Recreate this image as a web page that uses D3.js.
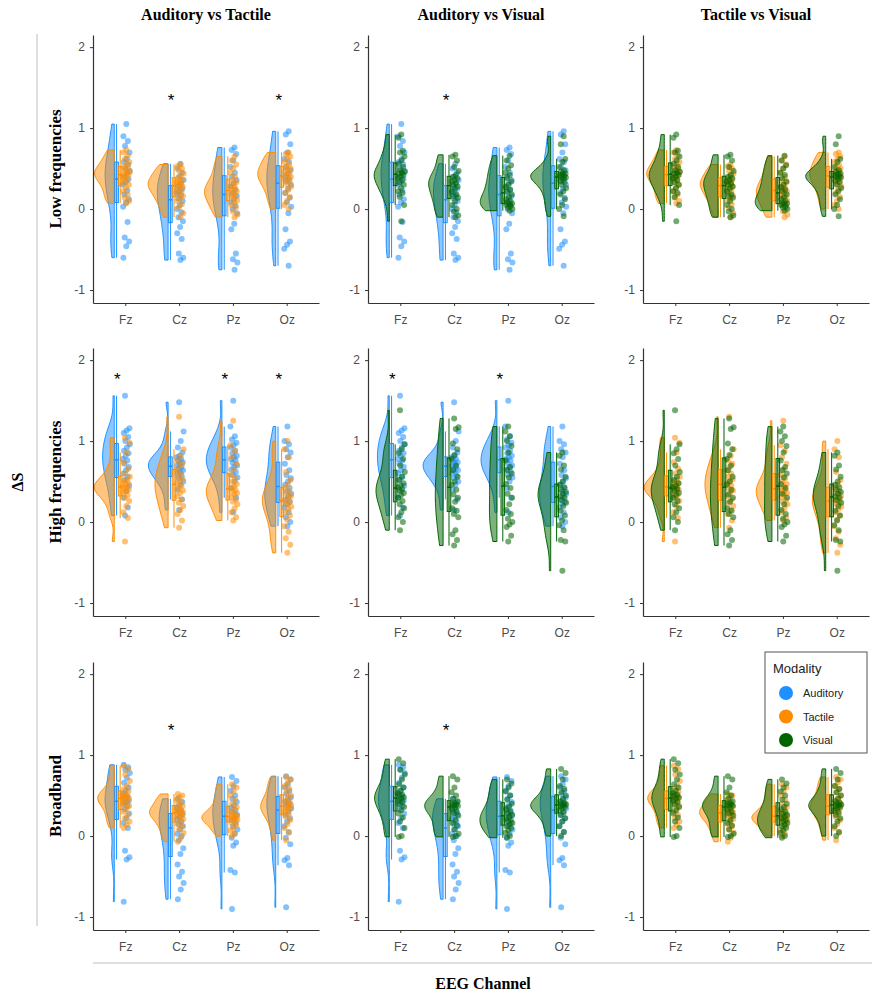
<!DOCTYPE html>
<html>
<head>
<meta charset="utf-8">
<script src="https://cdn.jsdelivr.net/npm/d3@7"></script>
<style>
  body { margin: 0; background: #fff; }
</style>
</head>
<body>
<svg id="chart" width="872" height="992"></svg>
<script>
const channels = ['Fz', 'Cz', 'Pz', 'Oz'];
const bands = ['Low frequencies', 'High frequencies', 'Broadband'];
const modalities = ['Auditory', 'Tactile', 'Visual'];
const comparisons = [['Auditory', 'Tactile'], ['Auditory', 'Visual'], ['Tactile', 'Visual']];
const yTicks = [-1, 0, 1, 2];

// ΔS per subject, one inner array per channel (Fz, Cz, Pz, Oz)
const lowAuditory = [
  [1.05, 0.9, 0.84, 0.78, 0.7, 0.62, 0.58, 0.55, 0.5, 0.47, 0.44, 0.4, 0.37, 0.33, 0.3, 0.23, 0.18, 0.12, 0.08, 0.03, -0.16, -0.35, -0.4, -0.46, -0.6],
  [0.56, 0.5, 0.45, 0.4, 0.36, 0.32, 0.28, 0.25, 0.22, 0.2, 0.17, 0.13, 0.1, 0.05, 0.0, -0.04, -0.1, -0.15, -0.22, -0.3, -0.37, -0.55, -0.6, -0.63],
  [0.76, 0.73, 0.68, 0.6, 0.52, 0.45, 0.4, 0.36, 0.32, 0.28, 0.24, 0.2, 0.16, 0.12, 0.08, 0.04, 0.0, -0.05, -0.18, -0.25, -0.55, -0.62, -0.66, -0.75],
  [0.96, 0.92, 0.8, 0.7, 0.62, 0.58, 0.52, 0.48, 0.44, 0.4, 0.37, 0.34, 0.3, 0.25, 0.2, 0.14, 0.08, 0.03, -0.05, -0.25, -0.4, -0.44, -0.49, -0.7]
];
const lowTactile = [
  [0.73, 0.7, 0.66, 0.62, 0.58, 0.55, 0.52, 0.5, 0.48, 0.46, 0.45, 0.43, 0.42, 0.4, 0.38, 0.36, 0.33, 0.3, 0.26, 0.22, 0.18, 0.14, 0.1, 0.07],
  [0.55, 0.53, 0.5, 0.47, 0.44, 0.41, 0.38, 0.36, 0.34, 0.33, 0.31, 0.3, 0.28, 0.26, 0.24, 0.22, 0.19, 0.16, 0.13, 0.1, 0.06, 0.02, -0.05, -0.1],
  [0.65, 0.6, 0.55, 0.5, 0.45, 0.4, 0.36, 0.33, 0.3, 0.28, 0.26, 0.24, 0.22, 0.2, 0.18, 0.16, 0.14, 0.11, 0.08, 0.05, 0.02, -0.03, -0.07, -0.1],
  [0.7, 0.68, 0.65, 0.62, 0.58, 0.55, 0.52, 0.5, 0.48, 0.46, 0.44, 0.42, 0.4, 0.38, 0.36, 0.34, 0.31, 0.28, 0.24, 0.2, 0.15, 0.1, 0.05, 0.0]
];
const lowVisual = [
  [0.92, 0.88, 0.72, 0.7, 0.65, 0.6, 0.56, 0.52, 0.48, 0.46, 0.45, 0.44, 0.42, 0.4, 0.38, 0.36, 0.33, 0.3, 0.26, 0.22, 0.2, 0.15, 0.05, -0.15],
  [0.67, 0.65, 0.6, 0.52, 0.47, 0.42, 0.4, 0.38, 0.36, 0.34, 0.32, 0.3, 0.28, 0.25, 0.22, 0.18, 0.16, 0.14, 0.1, 0.05, 0.0, -0.03, -0.08, -0.1],
  [0.66, 0.6, 0.54, 0.5, 0.45, 0.42, 0.38, 0.34, 0.3, 0.27, 0.24, 0.22, 0.18, 0.15, 0.12, 0.1, 0.08, 0.07, 0.06, 0.05, 0.04, 0.02, 0.0, -0.02],
  [0.9, 0.8, 0.62, 0.58, 0.52, 0.48, 0.46, 0.44, 0.43, 0.42, 0.41, 0.4, 0.39, 0.37, 0.35, 0.33, 0.3, 0.26, 0.22, 0.18, 0.12, 0.05, 0.0, -0.09]
];

const highAuditory = [
  [1.56, 1.16, 1.13, 1.1, 1.05, 1.0, 0.96, 0.92, 0.88, 0.85, 0.82, 0.78, 0.76, 0.72, 0.68, 0.64, 0.6, 0.56, 0.52, 0.45, 0.38, 0.3, 0.18, 0.08],
  [1.48, 1.12, 1.0, 0.92, 0.86, 0.82, 0.8, 0.78, 0.76, 0.74, 0.72, 0.7, 0.68, 0.66, 0.64, 0.62, 0.6, 0.57, 0.54, 0.5, 0.46, 0.4, 0.28, 0.15],
  [1.5, 1.18, 1.06, 1.02, 0.98, 0.95, 0.92, 0.88, 0.85, 0.82, 0.8, 0.78, 0.76, 0.73, 0.7, 0.68, 0.65, 0.62, 0.58, 0.55, 0.5, 0.42, 0.3, 0.12],
  [1.18, 1.0, 0.96, 0.9, 0.86, 0.8, 0.72, 0.64, 0.58, 0.54, 0.5, 0.46, 0.42, 0.38, 0.35, 0.32, 0.28, 0.25, 0.22, 0.18, 0.12, 0.06, 0.0, -0.05]
];
const highTactile = [
  [1.04, 0.98, 0.86, 0.74, 0.66, 0.6, 0.56, 0.52, 0.5, 0.48, 0.46, 0.44, 0.43, 0.42, 0.4, 0.38, 0.36, 0.33, 0.3, 0.26, 0.2, 0.12, 0.05, -0.24],
  [1.3, 0.9, 0.82, 0.76, 0.72, 0.68, 0.64, 0.6, 0.56, 0.53, 0.5, 0.48, 0.45, 0.42, 0.39, 0.36, 0.32, 0.28, 0.24, 0.2, 0.15, 0.1, 0.02, -0.07],
  [1.25, 0.95, 0.88, 0.8, 0.72, 0.65, 0.58, 0.54, 0.5, 0.47, 0.44, 0.42, 0.4, 0.38, 0.36, 0.34, 0.31, 0.28, 0.25, 0.22, 0.17, 0.12, 0.06, 0.02],
  [1.0, 0.9, 0.8, 0.62, 0.52, 0.46, 0.42, 0.38, 0.35, 0.32, 0.3, 0.27, 0.25, 0.22, 0.19, 0.16, 0.12, 0.08, 0.03, -0.05, -0.12, -0.2, -0.28, -0.38]
];
const highVisual = [
  [1.38, 0.96, 0.9, 0.85, 0.78, 0.7, 0.62, 0.56, 0.52, 0.48, 0.45, 0.43, 0.41, 0.39, 0.36, 0.33, 0.3, 0.26, 0.22, 0.17, 0.12, 0.06, 0.0, -0.1],
  [1.28, 1.17, 1.15, 0.97, 0.9, 0.83, 0.78, 0.7, 0.64, 0.56, 0.5, 0.46, 0.4, 0.34, 0.3, 0.25, 0.17, 0.14, 0.1, 0.06, -0.1, -0.15, -0.22, -0.29],
  [1.18, 1.12, 1.06, 1.0, 0.94, 0.86, 0.76, 0.68, 0.64, 0.6, 0.55, 0.47, 0.42, 0.35, 0.3, 0.22, 0.15, 0.1, 0.04, 0.0, -0.03, -0.06, -0.17, -0.24],
  [0.86, 0.82, 0.7, 0.65, 0.56, 0.5, 0.46, 0.43, 0.4, 0.37, 0.35, 0.32, 0.3, 0.27, 0.24, 0.2, 0.14, 0.08, 0.02, -0.04, -0.1, -0.22, -0.24, -0.6]
];

const broadAuditory = [
  [0.88, 0.85, 0.82, 0.78, 0.72, 0.66, 0.6, 0.56, 0.52, 0.49, 0.46, 0.44, 0.42, 0.4, 0.37, 0.33, 0.28, 0.22, 0.16, 0.1, -0.18, -0.26, -0.29, -0.81],
  [0.46, 0.42, 0.38, 0.35, 0.32, 0.3, 0.27, 0.24, 0.21, 0.18, 0.15, 0.12, 0.08, 0.03, 0.0, -0.05, -0.15, -0.22, -0.35, -0.44, -0.5, -0.58, -0.66, -0.78],
  [0.73, 0.68, 0.62, 0.56, 0.5, 0.46, 0.42, 0.38, 0.35, 0.32, 0.29, 0.26, 0.23, 0.2, 0.16, 0.12, 0.08, 0.03, -0.02, -0.08, -0.12, -0.42, -0.45, -0.9],
  [0.74, 0.7, 0.64, 0.6, 0.56, 0.52, 0.48, 0.45, 0.42, 0.4, 0.37, 0.34, 0.3, 0.26, 0.22, 0.18, 0.12, 0.05, -0.02, -0.1, -0.27, -0.3, -0.36, -0.88]
];
const broadTactile = [
  [0.87, 0.83, 0.76, 0.68, 0.62, 0.58, 0.55, 0.52, 0.5, 0.49, 0.48, 0.47, 0.46, 0.44, 0.42, 0.4, 0.37, 0.34, 0.3, 0.26, 0.22, 0.18, 0.14, 0.1],
  [0.52, 0.5, 0.48, 0.45, 0.42, 0.4, 0.37, 0.35, 0.33, 0.31, 0.3, 0.29, 0.28, 0.27, 0.25, 0.23, 0.21, 0.18, 0.15, 0.12, 0.08, 0.04, -0.02, -0.07],
  [0.64, 0.6, 0.55, 0.5, 0.45, 0.4, 0.36, 0.33, 0.3, 0.28, 0.26, 0.25, 0.24, 0.23, 0.22, 0.21, 0.2, 0.18, 0.16, 0.13, 0.1, 0.07, 0.03, 0.0],
  [0.73, 0.7, 0.66, 0.62, 0.58, 0.54, 0.5, 0.47, 0.44, 0.42, 0.4, 0.38, 0.36, 0.35, 0.34, 0.32, 0.3, 0.27, 0.24, 0.2, 0.15, 0.1, 0.04, -0.05]
];
const broadVisual = [
  [0.95, 0.9, 0.82, 0.76, 0.7, 0.64, 0.6, 0.56, 0.53, 0.51, 0.5, 0.48, 0.46, 0.44, 0.42, 0.39, 0.36, 0.32, 0.28, 0.23, 0.18, 0.1, 0.0, -0.01],
  [0.74, 0.7, 0.6, 0.54, 0.5, 0.46, 0.43, 0.41, 0.4, 0.39, 0.38, 0.37, 0.35, 0.33, 0.3, 0.28, 0.25, 0.2, 0.16, 0.13, 0.08, 0.03, 0.0, -0.01],
  [0.7, 0.65, 0.6, 0.55, 0.5, 0.45, 0.4, 0.36, 0.33, 0.3, 0.28, 0.26, 0.24, 0.22, 0.2, 0.18, 0.16, 0.14, 0.12, 0.1, 0.07, 0.04, 0.0, -0.02],
  [0.83, 0.78, 0.7, 0.62, 0.58, 0.54, 0.5, 0.46, 0.43, 0.41, 0.4, 0.39, 0.38, 0.37, 0.36, 0.34, 0.32, 0.29, 0.26, 0.22, 0.18, 0.12, 0.05, 0.0]
];

// channels marked with * for each comparison column
const sigLow = [['Cz', 'Oz'], ['Cz'], []];
const sigHigh = [['Fz', 'Pz', 'Oz'], ['Fz', 'Pz'], []];
const sigBroad = [['Cz'], ['Cz'], []];
const sigLevel = [1.38, 1.8, 1.35];

const values = [
  { Auditory: lowAuditory, Tactile: lowTactile, Visual: lowVisual },
  { Auditory: highAuditory, Tactile: highTactile, Visual: highVisual },
  { Auditory: broadAuditory, Tactile: broadTactile, Visual: broadVisual }
];
const stars = [sigLow, sigHigh, sigBroad];

const color = d3.scaleOrdinal()
  .domain(modalities)
  .range(['#1E90FF', '#FF8C00', '#006400']);

const panelLeft = [93, 368, 643];
const panelTop = [35, 348, 662];
const panelW = 226;
const panelH = 268;
const violinMax = 20;

const svg = d3.select('#chart');

const x = d3.scalePoint().domain(channels).range([0, panelW]).padding(0.6);
const y = d3.scaleLinear().domain([-1.16, 2.15]).range([panelH, 0]);

function kde(vals) {
  const s = vals.slice().sort(d3.ascending);
  const iqr = d3.quantile(s, 0.75) - d3.quantile(s, 0.25);
  const bw = 0.9 * Math.min(d3.deviation(s), iqr / 1.34) * Math.pow(s.length, -0.2);
  const lo = s[0], hi = s[s.length - 1];
  return d3.range(61).map(i => {
    const v = lo + (hi - lo) * i / 60;
    const dens = d3.mean(s, d => Math.exp(-0.5 * ((v - d) / bw) ** 2)) / (bw * Math.sqrt(2 * Math.PI));
    return [v, dens];
  });
}

function boxStats(vals) {
  const s = vals.slice().sort(d3.ascending);
  const q1 = d3.quantile(s, 0.25), med = d3.quantile(s, 0.5), q3 = d3.quantile(s, 0.75);
  const iqr = q3 - q1;
  const lo = d3.min(s.filter(v => v >= q1 - 1.5 * iqr));
  const hi = d3.max(s.filter(v => v <= q3 + 1.5 * iqr));
  return { q1, med, q3, lo, hi };
}

const jitter = i => (((i * 37 + 11) % 23) / 22 - 0.5) * 7;

bands.forEach((band, r) => {
  comparisons.forEach((pair, c) => {
    const g = svg.append('g')
      .attr('transform', `translate(${panelLeft[c]},${panelTop[r]})`);

    // densities for the whole panel, scaled to the same area
    const dens = {};
    pair.forEach(m => { dens[m] = values[r][m].map(kde); });
    const maxD = d3.max(pair, m => d3.max(dens[m], k => d3.max(k, d => d[1])));
    const w = d3.scaleLinear().domain([0, maxD]).range([0, violinMax]);

    channels.forEach((ch, ci) => {
      const cx = x(ch);
      const base = cx - 11;

      pair.forEach(m => {
        const area = d3.area()
          .y(d => y(d[0]))
          .x0(base)
          .x1(d => base - w(d[1]));
        g.append('path')
          .attr('d', area(dens[m][ci]))
          .attr('fill', color(m))
          .attr('fill-opacity', 0.5)
          .attr('stroke', color(m))
          .attr('stroke-width', 1);
      });

      pair.forEach(m => {
        g.append('g').selectAll('circle')
          .data(values[r][m][ci])
          .join('circle')
          .attr('cx', (d, i) => cx + 1 + jitter(i + ci * 5 + r * 3))
          .attr('cy', d => y(d))
          .attr('r', 3)
          .attr('fill', color(m))
          .attr('fill-opacity', 0.55);
      });

      pair.forEach((m, k) => {
        const b = boxStats(values[r][m][ci]);
        const x0 = cx - 10.5 + k * 3.6;
        const bw = 3.6;
        g.append('line')
          .attr('x1', x0 + bw / 2).attr('x2', x0 + bw / 2)
          .attr('y1', y(b.hi)).attr('y2', y(b.lo))
          .attr('stroke', color(m)).attr('stroke-width', 1);
        g.append('rect')
          .attr('x', x0).attr('width', bw)
          .attr('y', y(b.q3)).attr('height', y(b.q1) - y(b.q3))
          .attr('fill', color(m)).attr('fill-opacity', 0.3)
          .attr('stroke', color(m)).attr('stroke-width', 1);
        g.append('line')
          .attr('x1', x0).attr('x2', x0 + bw)
          .attr('y1', y(b.med)).attr('y2', y(b.med))
          .attr('stroke', color(m)).attr('stroke-width', 1.5);
      });
    });

    g.selectAll('text.star')
      .data(stars[r][c])
      .join('text')
      .attr('class', 'star')
      .attr('x', d => x(d) - 8)
      .attr('y', y(sigLevel[r]) + 9)
      .attr('text-anchor', 'middle')
      .style('font', '17px "Liberation Sans", Arial, sans-serif')
      .attr('fill', '#000')
      .text('*');

    const ya = g.append('g')
      .call(d3.axisLeft(y).tickValues(yTicks).tickFormat(d => String(d))
        .tickSize(3).tickSizeOuter(0).tickPadding(5));
    const xa = g.append('g')
      .attr('transform', `translate(0,${panelH})`)
      .call(d3.axisBottom(x).tickSize(3).tickSizeOuter(0).tickPadding(9));
    [ya, xa].forEach(a => {
      a.select('.domain').attr('stroke', '#333').attr('stroke-width', 1.2);
      a.selectAll('.tick line').attr('stroke', '#333');
      a.selectAll('.tick text')
        .attr('fill', '#4D4D4D')
        .style('font', '12px "Liberation Sans", Arial, sans-serif');
    });
  });
});

const serif = '"Liberation Serif", "Times New Roman", serif';

svg.append('g').selectAll('text')
  .data(comparisons)
  .join('text')
  .attr('x', (d, i) => panelLeft[i] + panelW / 2)
  .attr('y', 20)
  .attr('text-anchor', 'middle')
  .style('font', `bold 16px ${serif}`)
  .text(d => `${d[0]} vs ${d[1]}`);

svg.append('g').selectAll('text')
  .data(bands)
  .join('text')
  .attr('transform', (d, i) => `translate(61,${panelTop[i] + panelH / 2}) rotate(-90)`)
  .attr('text-anchor', 'middle')
  .style('font', `bold 17px ${serif}`)
  .text(d => d);

svg.append('text')
  .attr('transform', 'translate(23,482) rotate(-90)')
  .attr('text-anchor', 'middle')
  .style('font', `bold 16px ${serif}`)
  .text('ΔS');

svg.append('text')
  .attr('x', 483)
  .attr('y', 989)
  .attr('text-anchor', 'middle')
  .style('font', `bold 16px ${serif}`)
  .text('EEG Channel');

svg.append('line')
  .attr('x1', 37).attr('x2', 37).attr('y1', 34).attr('y2', 926)
  .attr('stroke', '#BDBDBD').attr('stroke-width', 1);
svg.append('line')
  .attr('x1', 93).attr('x2', 872).attr('y1', 963).attr('y2', 963)
  .attr('stroke', '#BDBDBD').attr('stroke-width', 1);

// legend
const lg = svg.append('g').attr('transform', 'translate(765,652)');
lg.append('rect')
  .attr('width', 102).attr('height', 101)
  .attr('fill', '#fff').attr('stroke', '#555').attr('stroke-width', 1);
lg.append('text')
  .attr('x', 8).attr('y', 21)
  .attr('fill', '#222')
  .style('font', '13px "Liberation Sans", Arial, sans-serif')
  .text('Modality');
const items = lg.selectAll('g.item')
  .data(modalities)
  .join('g')
  .attr('class', 'item')
  .attr('transform', (d, i) => `translate(0,${41 + i * 23.5})`);
items.append('circle')
  .attr('cx', 21).attr('r', 7)
  .attr('fill', d => color(d));
items.append('text')
  .attr('x', 38).attr('y', 4)
  .attr('fill', '#222')
  .style('font', '11px "Liberation Sans", Arial, sans-serif')
  .text(d => d);
</script>
</body>
</html>
